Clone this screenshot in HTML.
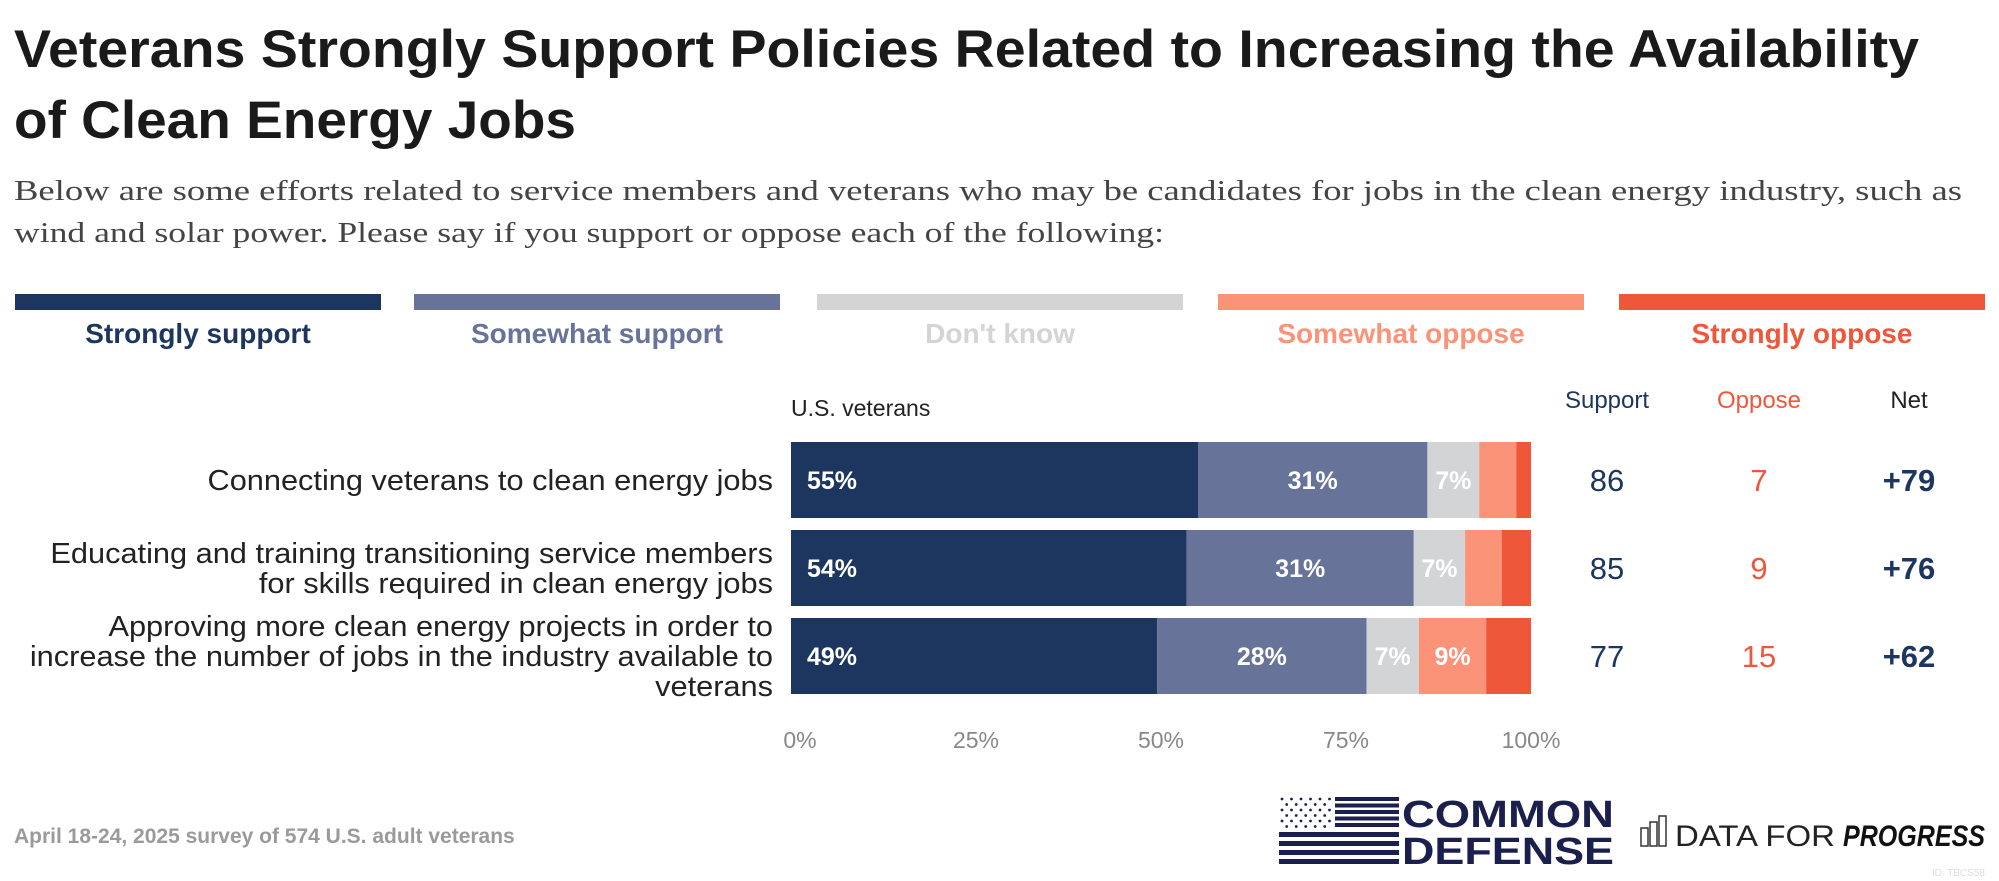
<!DOCTYPE html>
<html><head><meta charset="utf-8">
<style>
html,body{margin:0;padding:0;background:#fff;}
svg{display:block;font-family:"Liberation Sans",sans-serif;}
</style></head>
<body>
<svg id="chart" width="1999" height="881" viewBox="0 0 1999 881">
<text x="14" y="67" font-size="53" font-weight="bold" fill="#1a1a1a" textLength="1905" lengthAdjust="spacingAndGlyphs">Veterans Strongly Support Policies Related to Increasing the Availability</text>
<text x="14" y="138" font-size="53" font-weight="bold" fill="#1a1a1a" textLength="562" lengthAdjust="spacingAndGlyphs">of Clean Energy Jobs</text>
<text x="14" y="200" font-size="28" fill="#444" font-family="Liberation Serif, serif" textLength="1948" lengthAdjust="spacingAndGlyphs">Below are some efforts related to service members and veterans who may be candidates for jobs in the clean energy industry, such as</text>
<text x="14" y="242" font-size="28" fill="#444" font-family="Liberation Serif, serif" textLength="1150" lengthAdjust="spacingAndGlyphs">wind and solar power. Please say if you support or oppose each of the following:</text>
<g id="legend"></g>
<text x="791" y="416" font-size="23" fill="#222">U.S. veterans</text>
<text x="1607" y="408" font-size="24" fill="#1d3660" text-anchor="middle">Support</text>
<text x="1759" y="408" font-size="24" fill="#ef573a" text-anchor="middle">Oppose</text>
<text x="1909" y="408" font-size="24" fill="#222" text-anchor="middle">Net</text>
<g id="bars"></g>
<g id="axis"></g>
<text x="14" y="843" font-size="21" font-weight="bold" fill="#9a9a9a">April 18-24, 2025 survey of 574 U.S. adult veterans</text>
<g>
  <g id="flag"></g>
  <text x="1402" y="827" font-size="38" font-weight="bold" fill="#1a1f4d" textLength="212" lengthAdjust="spacingAndGlyphs">COMMON</text>
  <text x="1402" y="864" font-size="38" font-weight="bold" fill="#1a1f4d" textLength="212" lengthAdjust="spacingAndGlyphs">DEFENSE</text>
</g>
<g>
  <rect x="1641" y="828" width="7" height="18" fill="none" stroke="#333" stroke-width="1.5"/>
  <rect x="1650" y="822" width="7" height="24" fill="none" stroke="#333" stroke-width="1.5"/>
  <rect x="1659" y="816" width="7" height="30" fill="none" stroke="#333" stroke-width="1.5"/>
  <text x="1675" y="846" font-size="30" fill="#222" textLength="160" lengthAdjust="spacingAndGlyphs">DATA FOR</text>
  <text x="1843" y="846" font-size="30" font-weight="bold" font-style="italic" fill="#111" textLength="142" lengthAdjust="spacingAndGlyphs">PROGRESS</text>
</g>
<text x="1985" y="876" font-size="10" fill="#ddd" text-anchor="end">ID: TBCS58</text>
</svg>
<script>
const categories = ["Strongly support","Somewhat support","Don't know","Somewhat oppose","Strongly oppose"];
const colors = ["#1d3660","#68739a","#d3d4d6","#fb9378","#ef573a"];
const labelColors = ["#1d3660","#68739a","#d3d4d6","#fb9378","#ef573a"];
const rowLabels = [
  ["Connecting veterans to clean energy jobs"],
  ["Educating and training transitioning service members","for skills required in clean energy jobs"],
  ["Approving more clean energy projects in order to","increase the number of jobs in the industry available to","veterans"]
];
const stronglySupport = [55,54,49];
const somewhatSupport = [31,31,28];
const dontKnow = [7,7,7];
const somewhatOppose = [5,5,9];
const stronglyOppose = [2,4,6];
const supportTotals = [86,85,77];
const opposeTotals = [7,9,15];
const netValues = ["+79","+76","+62"];
const ticks = [0,25,50,75,100];

const NS="http://www.w3.org/2000/svg";
function mk(tag,attrs,parent,txt){const e=document.createElementNS(NS,tag);for(const k in attrs)e.setAttribute(k,attrs[k]);if(txt!==undefined)e.textContent=txt;parent.appendChild(e);return e;}
const x0=791,x1=1531;
const xs=v=>x0+(x1-x0)*v/100;
const rowTop=i=>442+i*88;
const barH=76;

// legend
const legend=document.getElementById('legend');
const legX=[15,414,817,1218,1619], legW=366;
categories.forEach((c,i)=>{
  const r=mk('rect',{x:legX[i],y:294,width:legW,height:16,fill:colors[i]},legend);
  
  
  const t=mk('text',{x:legX[i]+legW/2,y:343,'font-size':28,'font-weight':'bold',fill:labelColors[i],'text-anchor':'middle'},legend,c);
  
  
});

// bars
const bars=document.getElementById('bars');
const series=[stronglySupport,somewhatSupport,dontKnow,somewhatOppose,stronglyOppose];
rowLabels.forEach((lines,i)=>{
  const top=rowTop(i), cy=top+barH/2;
  const lh=30, start=cy-(lines.length-1)*lh/2;
  lines.forEach((ln,j)=>{
    const t=mk('text',{x:773,y:start+j*lh+10,'font-size':29,fill:'#222','text-anchor':'end','transform':'translate(773,0) scale(1.06,1) translate(-773,0)'},bars,ln);
    
    
  });
  const total=series.reduce((s,a)=>s+a[i],0);
  let acc=0;
  series.forEach((arr,k)=>{
    const v=arr[i]*100/total;
    const r=mk('rect',{x:xs(acc),y:top,width:xs(acc+v)-xs(acc),height:barH,fill:colors[k]},bars);
    
    
    if(arr[i]>=7){
      const lx = k===0 ? xs(acc)+16 : (xs(acc)+xs(acc+v))/2;
      const t=mk('text',{x:lx,y:cy+9,'font-size':25,'font-weight':'bold',fill:'#fff','text-anchor':k===0?'start':'middle'},bars,arr[i]+'%');
      
      
    }
    acc+=v;
  });
  const s=mk('text',{x:1607,y:cy+11,'font-size':31,fill:'#1d3660','text-anchor':'middle'},bars,supportTotals[i]);
  
  
  const o=mk('text',{x:1759,y:cy+11,'font-size':31,fill:'#ef573a','text-anchor':'middle'},bars,opposeTotals[i]);
  
  
  const n=mk('text',{x:1909,y:cy+11,'font-size':31,'font-weight':'bold',fill:'#1d3660','text-anchor':'middle'},bars,netValues[i]);
  
  
});

// axis
const axis=document.getElementById('axis');
ticks.forEach(t=>{
  const e=mk('text',{x:xs(t)+(t===0?9:0),y:748,'font-size':23,fill:'#888','text-anchor':'middle'},axis,t+'%');
  
  
});

// flag
const flag=document.getElementById('flag');
for(let r=0;r<5;r++){
  mk('rect',{x:1335,y:797+r*6.5,width:64,height:4,fill:'#1a1f4d'},flag);
}
for(let r=0;r<4;r++){
  mk('rect',{x:1279,y:832+r*9,width:120,height:5,fill:'#1a1f4d'},flag);
}
for(let r=0;r<6;r++)for(let c=0;c<(r%2?5:6);c++){
  mk('circle',{cx:1282+c*9.5+(r%2?4.7:0),cy:799+r*5.5,r:1.4,fill:'#1a1f4d'},flag);
}
</script>
</body></html>
